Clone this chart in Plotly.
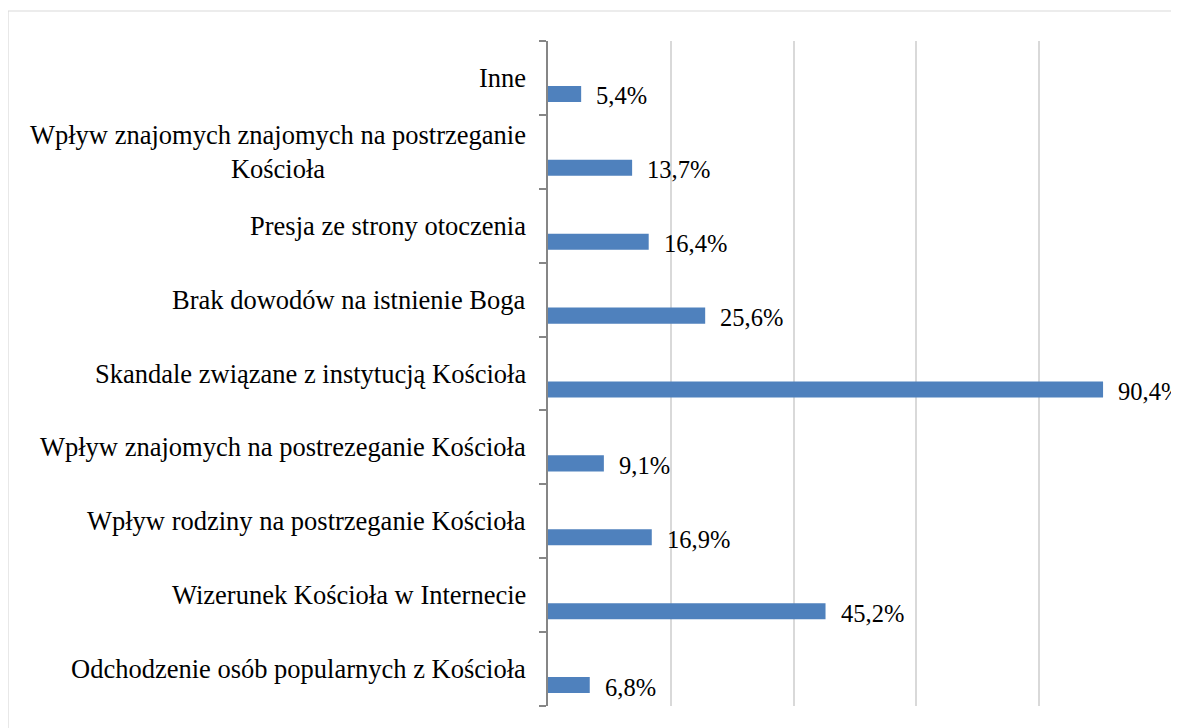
import plotly.graph_objects as go

# Data (bottom to top as displayed)
categories = [
    "Odchodzenie osób popularnych z Kościoła",
    "Wizerunek Kościoła w Internecie",
    "Wpływ rodziny na postrzeganie Kościoła",
    "Wpływ znajomych na postrezeganie Kościoła",
    "Skandale związane z instytucją Kościoła",
    "Brak dowodów na istnienie Boga",
    "Presja ze strony otoczenia",
    "Wpływ znajomych znajomych na postrzeganie<br>Kościoła",
    "Inne",
]
values = [6.8, 45.2, 16.9, 9.1, 90.4, 25.6, 16.4, 13.7, 5.4]
value_labels = [f"{v:.1f}%".replace(".", ",") for v in values]

FONT = "'Times New Roman', 'Liberation Serif', serif"

fig = go.Figure()
fig.add_trace(go.Bar(
    x=values,
    y=categories,
    orientation="h",
    marker=dict(color="#4F81BD", line=dict(width=0)),
    offset=-0.325,
    width=0.217,
    hoverinfo="skip",
))

annotations = []
for cat, v, lab in zip(categories, values, value_labels):
    annotations.append(dict(
        x=v, y=cat, xref="x", yref="y", text=lab, showarrow=False,
        xanchor="left", yanchor="middle", xshift=13, yshift=-18,
        font=dict(family=FONT, size=24.5, color="#000000"),
    ))
    annotations.append(dict(
        x=0, y=cat, xref="x", yref="y", text=cat, showarrow=False,
        xanchor="right", yanchor="middle", xshift=-20, align="center",
        font=dict(family=FONT, size=26.5, color="#000000"),
    ))

fig.update_layout(
    width=1171,
    height=720,
    margin=dict(l=540, r=17, t=33, b=22),
    paper_bgcolor="white",
    plot_bgcolor="white",
    showlegend=False,
    font=dict(family=FONT),
    annotations=annotations,
    shapes=[dict(
        type="rect", xref="paper", yref="paper",
        x0=-0.8795, x1=1.2, y0=-0.2, y1=1.0451,
        line=dict(color="#d9d9d9", width=1.2), fillcolor="rgba(0,0,0,0)",
        layer="below",
    )],
    xaxis=dict(
        range=[0, 100], dtick=20, tick0=0,
        showgrid=True, gridcolor="#d9d9d9", gridwidth=1.5,
        showticklabels=False, showline=False, zeroline=False, ticks="",
    ),
    yaxis=dict(
        type="category",
        showticklabels=False,
        tickson="boundaries",
        ticks="outside", ticklen=7, tickcolor="#868686", tickwidth=1.5,
        showline=True, linecolor="#868686", linewidth=1.5,
        showgrid=False, zeroline=False,
    ),
)

fig.write_html("out.html")
